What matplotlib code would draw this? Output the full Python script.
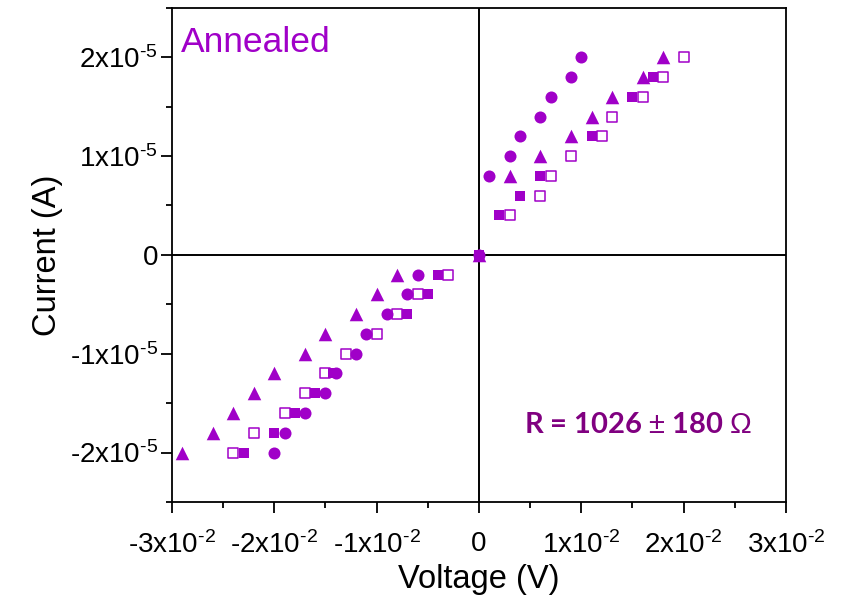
import numpy as np
import matplotlib
matplotlib.use('Agg')
from matplotlib import pyplot as plt
from matplotlib.ticker import FixedLocator, FuncFormatter, AutoMinorLocator

plt.rcParams.update({
    'font.family': ['Liberation Sans', 'DejaVu Sans'],
    'mathtext.fontset': 'custom',
    'mathtext.rm': 'Liberation Sans',
    'mathtext.it': 'Liberation Sans',
    'axes.linewidth': 1.3,
})

purple = '#A000C8'
darkpurple = '#800080'

# circles
circ_v = [-0.020, -0.019, -0.017, -0.015, -0.014, -0.012, -0.011, -0.009, -0.007, -0.006,
          0.0, 0.001, 0.003, 0.004, 0.006, 0.007, 0.009, 0.010]
circ_i = [-2.0, -1.8, -1.6, -1.4, -1.2, -1.0, -0.8, -0.6, -0.4, -0.2,
          0.0, 0.8, 1.0, 1.2, 1.4, 1.6, 1.8, 2.0]
# triangles
tri_v = [-0.029, -0.026, -0.024, -0.022, -0.020, -0.017, -0.015, -0.012, -0.010, -0.008,
         0.0, 0.003, 0.006, 0.009, 0.011, 0.013, 0.016, 0.018]
tri_i = [-2.0, -1.8, -1.6, -1.4, -1.2, -1.0, -0.8, -0.6, -0.4, -0.2,
         0.0, 0.8, 1.0, 1.2, 1.4, 1.6, 1.8, 2.0]
# filled squares
sqf_v = [-0.023, -0.020, -0.018, -0.016, -0.0143, -0.007, -0.005, -0.004,
         0.0, 0.002, 0.004, 0.006, 0.011, 0.015, 0.017]
sqf_i = [-2.0, -1.8, -1.6, -1.4, -1.2, -0.6, -0.4, -0.2,
         0.0, 0.4, 0.6, 0.8, 1.2, 1.6, 1.8]
# open squares
sqo_v = [-0.024, -0.022, -0.019, -0.017, -0.015, -0.013, -0.010, -0.008, -0.006, -0.003,
         0.003, 0.006, 0.007, 0.009, 0.012, 0.013, 0.016, 0.018, 0.020]
sqo_i = [-2.0, -1.8, -1.6, -1.4, -1.2, -1.0, -0.8, -0.6, -0.4, -0.2,
         0.4, 0.6, 0.8, 1.0, 1.2, 1.4, 1.6, 1.8, 2.0]

xticks = [-0.03, -0.02, -0.01, 0, 0.01, 0.02, 0.03]
yticks = [-2e-5, -1e-5, 0, 1e-5, 2e-5]

fig = plt.figure(figsize=(8.47, 6.04), dpi=100)
ax = fig.add_axes((0.203, 0.169, 0.725, 0.818))

ax.axhline(0, color='black', lw=1.4, zorder=1)
ax.axvline(0, color='black', lw=1.4, zorder=1)

ax.scatter(sqo_v, np.array(sqo_i) * 1e-5, marker='s', s=55, facecolor='white',
           edgecolor=purple, linewidth=1.1, zorder=3)
ax.scatter(sqf_v, np.array(sqf_i) * 1e-5, marker='s', s=55, color=purple, lw=0, zorder=3)
ax.scatter(circ_v, np.array(circ_i) * 1e-5, marker='o', s=75, color=purple, lw=0, zorder=4)
ax.scatter(tri_v, np.array(tri_i) * 1e-5, marker='^', s=95, color=purple, lw=0, zorder=4)

ax.set_xlim(-0.03, 0.03)
ax.set_ylim(-2.5e-5, 2.5e-5)


def sci(v, pos):
    if v == 0:
        return '0'
    exp = int(np.floor(np.log10(abs(v)) + 1e-9))
    m = v / 10 ** exp
    return '%dx10$^{\\text{%d}}$' % (round(m), exp)


ax.xaxis.set_major_locator(FixedLocator(xticks))
ax.yaxis.set_major_locator(FixedLocator(yticks))
ax.xaxis.set_major_formatter(FuncFormatter(sci))
ax.yaxis.set_major_formatter(FuncFormatter(sci))
ax.xaxis.set_minor_locator(AutoMinorLocator(2))
ax.yaxis.set_minor_locator(AutoMinorLocator(2))
ax.tick_params(which='major', direction='out', length=8, width=1.3, labelsize=20)
ax.tick_params(which='minor', direction='out', length=4, width=1.3)
ax.tick_params(axis='x', pad=13)
ax.tick_params(axis='y', pad=2)

ax.set_xlabel('Voltage (V)', fontsize=23.5, labelpad=4)
ax.set_ylabel('Current (A)', fontsize=23.5, labelpad=5)

ax.text(0.015, 0.93, 'Annealed', transform=ax.transAxes, color=purple,
        fontsize=25.5, ha='left', va='center')
ax.text(0.0155, -1.72e-5, 'R = 1026 $\\pm$ 180 $\\Omega$', color=darkpurple,
        fontsize=21, fontweight='bold', family=['Lato', 'DejaVu Sans'],
        ha='center', va='center')

plt.savefig('out.png', dpi=100)
